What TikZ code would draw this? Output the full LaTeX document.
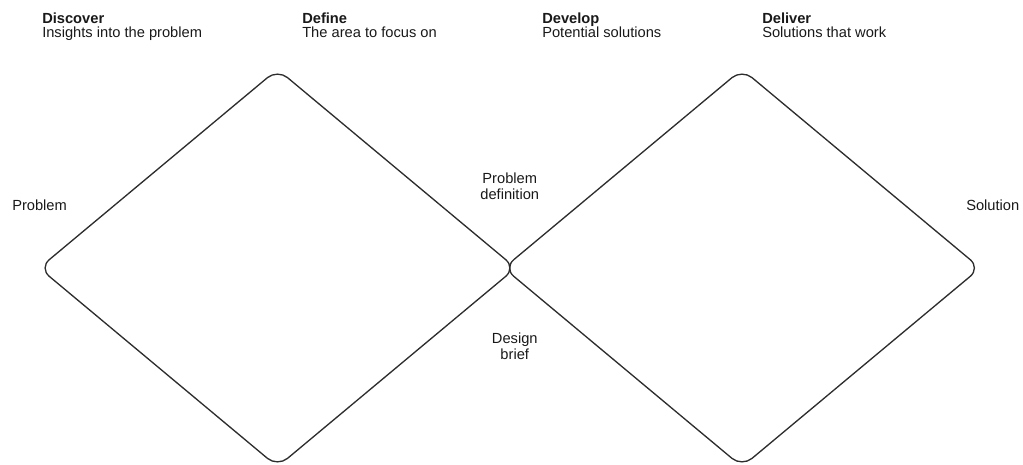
\documentclass[tikz,border=0pt]{standalone}
\usepackage{fontspec}
\setmainfont{Liberation Sans}
\usetikzlibrary{shapes.geometric,positioning,calc}
\definecolor{linegray}{RGB}{45,45,45}
\definecolor{textgray}{RGB}{25,25,25}

\begin{document}
\begin{tikzpicture}[
    x=0.75pt, y=-0.75pt,
    node distance=1cm,
    every node/.style={inner sep=0pt, text=textgray},
    phase/.style={diamond, draw=linegray, line width=1pt, rounded corners=9.75pt,
        minimum width=357.75pt, minimum height=298.5pt},
    header/.style={anchor=north west, align=left, font=\fontsize{11}{10.3}\selectfont},
    note/.style={align=center, font=\fontsize{11}{12}\selectfont},
    endpoint/.style={anchor=base west, font=\fontsize{11}{12}\selectfont}
]
    \useasboundingbox (0,0) rectangle (1023,464);

    % The two diamonds
    \node[phase] (diverge) at (277.5,268) {};
    \node[phase] (converge) at (742,268) {};
    \coordinate (pinch) at ($(diverge.east)!0.5!(converge.west)$);

    % Phase headings
    \node[header] (discover) at (42,12.5) {\textbf{Discover}\\Insights into the problem};
    \node[header] (define) at (302,12.5) {\textbf{Define}\\The area to focus on};
    \node[header] (develop) at (542,12.5) {\textbf{Develop}\\Potential solutions};
    \node[header] (deliver) at (762,12.5) {\textbf{Deliver}\\Solutions that work};

    % Start and end
    \node[endpoint] (problem) at (12,210) {Problem};
    \node[endpoint] (solution) at (966,210) {Solution};

    % Between the diamonds
    \node[note, above=51pt of pinch] (definition) {Problem\\definition};
    \node[note, below=48.75pt of pinch, xshift=3.75pt] (brief) {Design\\brief};
\end{tikzpicture}
\end{document}
